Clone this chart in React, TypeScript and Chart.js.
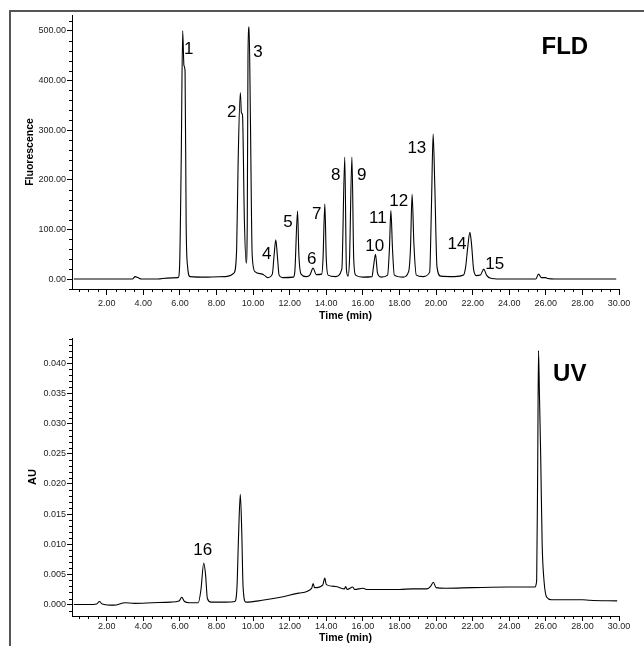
import React, { useEffect, useRef } from "react";
import { Chart, registerables } from "chart.js";

Chart.register(...registerables);

const FONT = '"Liberation Sans", Arial, Helvetica, sans-serif';

// ---------- FLD trace (time in min, fluorescence) ----------
const fldTime = [
  0.2, 1.5, 3.0, 3.4, 3.55, 3.7, 3.9, 4.8, 5.3, 5.9,
  5.98, 6.07, 6.15, 6.22, 6.28, 6.34, 6.42, 6.55, 7.5, 8.5,
  8.95, 9.1, 9.18, 9.3, 9.36, 9.42, 9.52, 9.62, 9.68, 9.72,
  9.78, 9.85, 9.95, 10.1, 10.5, 10.6, 10.8, 11.05, 11.14, 11.24,
  11.33, 11.42, 11.6, 12.2, 12.28, 12.43, 12.5, 12.62, 12.9, 13.1,
  13.28, 13.45, 13.75, 13.82, 13.92, 14.0, 14.1, 14.5, 14.85, 15.01,
  15.1, 15.19, 15.27, 15.4, 15.5, 15.6, 16.0, 16.5, 16.58, 16.69,
  16.8, 17.0, 17.35, 17.45, 17.53, 17.62, 17.72, 18.2, 18.5, 18.6,
  18.69, 18.79, 18.92, 19.3, 19.65, 19.75, 19.84, 19.93, 20.05, 20.25,
  21.0, 21.5, 21.62, 21.72, 21.85, 21.94, 22.05, 22.2, 22.42, 22.61,
  22.76, 22.95, 23.5, 25.45, 25.6, 25.75, 26.0, 26.1, 26.5, 29.85,
];
const fldSignal = [
  0, 0, 0, 0, 5, 3, 0, 0, 2, 3,
  25, 240, 500, 430, 420, 110, 25, 5, 4, 5,
  12, 60, 234, 376, 335, 330, 123, 32, 110, 450,
  508, 330, 48, 15, 10, 8, 3, 10, 45, 79,
  45, 8, 3, 4, 15, 137, 50, 10, 5, 8,
  22, 9, 10, 40, 151, 40, 8, 5, 20, 246,
  20, 6, 40, 246, 40, 8, 4, 5, 25, 50,
  12, 4, 8, 60, 138, 60, 8, 4, 15, 60,
  171, 70, 8, 5, 14, 150, 292, 190, 25, 6,
  5, 8, 25, 60, 94, 70, 20, 7, 8, 20,
  8, 2, 0, 0, 10, 3, 3, 1, 0, 0,
];

// ---------- UV trace (time in min, AU) ----------
const uvTime = [
  0.2, 1.0, 1.45, 1.6, 1.75, 2.4, 3.0, 3.5, 4.5, 5.5,
  5.95, 6.1, 6.25, 6.5, 7.0, 7.15, 7.3, 7.4, 7.5, 7.7,
  8.5, 9.0, 9.12, 9.2, 9.3, 9.38, 9.45, 9.6, 10.5, 11.5,
  12.5, 13.2, 13.28, 13.36, 13.8, 13.92, 14.0, 14.5, 15.0, 15.05,
  15.15, 15.45, 15.55, 16.0, 16.2, 17.0, 18.0, 18.7, 19.5, 19.7,
  19.85, 20.0, 20.5, 22.0, 24.0, 25.4, 25.5, 25.56, 25.6, 25.65,
  25.72, 25.8, 25.9, 26.05, 26.3, 27.0, 28.0, 28.4, 29.9,
];
const uvSignal = [
  0.0, 0.0, 0.0001, 0.0005, 0.0001, -0.0001, 0.0003, 0.0002, 0.0003, 0.0004,
  0.0006, 0.0012, 0.0005, 0.0003, 0.0003, 0.0025, 0.0069, 0.005, 0.001, 0.0004,
  0.0004, 0.0005, 0.003, 0.011, 0.0183, 0.012, 0.003, 0.0004, 0.0007, 0.0012,
  0.0019, 0.0027, 0.0035, 0.0028, 0.0032, 0.0044, 0.0033, 0.003, 0.0026, 0.003,
  0.0025, 0.0029, 0.0025, 0.0027, 0.0025, 0.0025, 0.0025, 0.0026, 0.0026, 0.003,
  0.0037, 0.0028, 0.0027, 0.0028, 0.0029, 0.0029, 0.004, 0.025, 0.0421, 0.035,
  0.0245, 0.01, 0.004, 0.0012, 0.0008, 0.0008, 0.0008, 0.0007, 0.0006,
];

// ---------- Axis ticks ----------
const xTickValues = [2, 4, 6, 8, 10, 12, 14, 16, 18, 20, 22, 24, 26, 28, 30];
const xTickLabels = ["2.00", "4.00", "6.00", "8.00", "10.00", "12.00", "14.00", "16.00", "18.00", "20.00", "22.00", "24.00", "26.00", "28.00", "30.00"];
const fldTickValues = [0, 100, 200, 300, 400, 500];
const fldTickLabels = ["0.00", "100.00", "200.00", "300.00", "400.00", "500.00"];
const uvTickValues = [0, 0.005, 0.01, 0.015, 0.02, 0.025, 0.03, 0.035, 0.04];
const uvTickLabels = ["0.000", "0.005", "0.010", "0.015", "0.020", "0.025", "0.030", "0.035", "0.040"];

// ---------- Peak annotations (anchored in data coordinates) ----------
const fldPeakNames = ["1", "2", "3", "4", "5", "6", "7", "8", "9", "10", "11", "12", "13", "14", "15"];
const fldPeakNameTime = [6.48, 8.83, 10.26, 10.75, 11.9, 13.21, 13.48, 14.52, 15.94, 16.65, 16.82, 17.96, 18.95, 21.14, 23.21];
const fldPeakNameSignal = [462, 335, 456, 50, 115, 40, 131, 210, 210, 65, 123, 157, 264, 71, 30];
const uvPeakNames = ["16"];
const uvPeakNameTime = [7.25];
const uvPeakNameSignal = [0.009];

const fldDetector = { text: "FLD", time: 27.04, value: 466 };
const uvDetector = { text: "UV", time: 27.31, value: 0.0381 };

function range(a: number, b: number, step: number) {
  const out: number[] = [];
  const n = Math.round((b - a) / step);
  for (let i = 0; i <= n; i++) out.push(+(a + i * step).toFixed(6));
  return out;
}

const minorTicksPlugin = {
  id: "minorTicks",
  afterDraw(chart: any, _args: any, opts: any) {
    const { ctx, chartArea, scales } = chart;
    ctx.save();
    ctx.strokeStyle = "#000";
    ctx.lineWidth = 1;
    ctx.beginPath();
    for (const v of opts.x || []) {
      const px = Math.round(scales.x.getPixelForValue(v)) + 0.5;
      ctx.moveTo(px, chartArea.bottom);
      ctx.lineTo(px, chartArea.bottom + 3);
    }
    for (const v of opts.y || []) {
      const py = Math.round(scales.y.getPixelForValue(v)) + 0.5;
      ctx.moveTo(chartArea.left, py);
      ctx.lineTo(chartArea.left - 3, py);
    }
    ctx.stroke();
    ctx.restore();
  },
};

const textLabelsPlugin = {
  id: "textLabels",
  afterDatasetsDraw(chart: any, _args: any, opts: any) {
    const { ctx, scales } = chart;
    ctx.save();
    ctx.fillStyle = "#000";
    ctx.textAlign = "center";
    ctx.textBaseline = "middle";
    for (const l of opts.items || []) {
      ctx.font = l.font;
      ctx.fillText(l.text, scales.x.getPixelForValue(l.x), scales.y.getPixelForValue(l.y));
    }
    ctx.restore();
  },
};

function makeConfig(opts: {
  time: number[];
  signal: number[];
  yMin: number;
  yMax: number;
  yTicks: number[];
  yLabels: string[];
  yMinor: number[];
  yTitle: string;
  yTitleFont: any;
  yTitlePad: number;
  padTop: number;
  xHeight: number;
  xTickLen: number;
  xTickPad: number;
  xTitlePadBottom: number;
  labels: any[];
}) {
  return {
    type: "line" as const,
    data: {
      datasets: [
        {
          data: opts.time.map((t, i) => ({ x: t, y: opts.signal[i] })),
          borderColor: "#000",
          borderWidth: 1.1,
          pointRadius: 0,
          cubicInterpolationMode: "monotone" as const,
          fill: false,
        },
      ],
    },
    options: {
      animation: false as const,
      responsive: false,
      maintainAspectRatio: false,
      layout: { padding: { left: 0, top: opts.padTop, right: 25, bottom: 0 } },
      plugins: {
        legend: { display: false },
        tooltip: { enabled: false },
        minorTicks: {
          x: range(0.5, 29.5, 0.5).filter((v) => !xTickValues.includes(v)),
          y: opts.yMinor,
        },
        textLabels: { items: opts.labels },
      },
      scales: {
        x: {
          type: "linear" as const,
          min: 0.1,
          max: 30,
          afterBuildTicks: (s: any) => {
            s.ticks = xTickValues.map((v) => ({ value: v }));
          },
          afterFit: (s: any) => {
            s.height = opts.xHeight;
          },
          ticks: {
            callback: (v: any) => xTickLabels[xTickValues.indexOf(v)] ?? "",
            font: { size: 9, family: FONT },
            color: "#222",
            padding: opts.xTickPad,
            maxRotation: 0,
            autoSkip: false,
          },
          grid: { drawOnChartArea: false, drawTicks: true, tickLength: opts.xTickLen, color: "#000" },
          border: { display: true, color: "#000", width: 1 },
          title: {
            display: true,
            text: "Time (min)",
            font: { size: 10.5, weight: "bold" as const, family: FONT },
            color: "#000",
            padding: { top: 0, bottom: opts.xTitlePadBottom },
          },
        },
        y: {
          type: "linear" as const,
          min: opts.yMin,
          max: opts.yMax,
          afterBuildTicks: (s: any) => {
            s.ticks = opts.yTicks.map((v) => ({ value: v }));
          },
          afterFit: (s: any) => {
            s.width = 72;
          },
          ticks: {
            callback: (v: any) => {
              const i = opts.yTicks.findIndex((t) => Math.abs(t - v) < 1e-9);
              return i >= 0 ? opts.yLabels[i] : "";
            },
            font: { size: 9, family: FONT },
            color: "#222",
            padding: 1,
            autoSkip: false,
          },
          grid: { drawOnChartArea: false, drawTicks: true, tickLength: 5, color: "#000" },
          border: { display: true, color: "#000", width: 1 },
          title: {
            display: true,
            text: opts.yTitle,
            font: opts.yTitleFont,
            color: "#000",
            padding: { top: opts.yTitlePad, bottom: 0 },
          },
        },
      },
    },
    plugins: [minorTicksPlugin, textLabelsPlugin],
  };
}

export default function App() {
  const topRef = useRef<HTMLCanvasElement>(null);
  const botRef = useRef<HTMLCanvasElement>(null);

  useEffect(() => {
    const peakFont = `17px ${FONT}`;
    const detFont = `bold 24px ${FONT}`;
    const topLabels = fldPeakNames
      .map((t, i) => ({ text: t, x: fldPeakNameTime[i], y: fldPeakNameSignal[i], font: peakFont }))
      .concat([{ text: fldDetector.text, x: fldDetector.time, y: fldDetector.value, font: detFont }]);
    const botLabels = uvPeakNames
      .map((t, i) => ({ text: t, x: uvPeakNameTime[i], y: uvPeakNameSignal[i], font: peakFont }))
      .concat([{ text: uvDetector.text, x: uvDetector.time, y: uvDetector.value, font: detFont }]);

    const top = new Chart(
      topRef.current!,
      makeConfig({
        time: fldTime,
        signal: fldSignal,
        yMin: -20,
        yMax: 532,
        yTicks: fldTickValues,
        yLabels: fldTickLabels,
        yMinor: range(-20, 520, 20).filter((v) => !fldTickValues.includes(v)),
        yTitle: "Fluorescence",
        yTitleFont: { size: 10.5, weight: "bold", family: FONT },
        yTitlePad: 24,
        padTop: 15,
        xHeight: 34,
        xTickLen: 6,
        xTickPad: 3,
        xTitlePadBottom: 1,
        labels: topLabels,
      }) as any
    );
    const bot = new Chart(
      botRef.current!,
      makeConfig({
        time: uvTime,
        signal: uvSignal,
        yMin: -0.0019,
        yMax: 0.0442,
        yTicks: uvTickValues,
        yLabels: uvTickLabels,
        yMinor: range(-0.001, 0.044, 0.001).filter((v) => !uvTickValues.some((t) => Math.abs(t - v) < 1e-9)),
        yTitle: "AU",
        yTitleFont: { size: 11, weight: "bold", family: FONT },
        yTitlePad: 26,
        padTop: 15,
        xHeight: 30,
        xTickLen: 5,
        xTickPad: 0,
        xTitlePadBottom: 2,
        labels: botLabels,
      }) as any
    );
    return () => {
      top.destroy();
      bot.destroy();
    };
  }, []);

  return (
    <div style={{ position: "absolute", left: 0, top: 0, width: 644, height: 646, background: "#fff", overflow: "hidden" }}>
      <canvas ref={topRef} width={644} height={323} style={{ position: "absolute", left: 0, top: 0, width: 644, height: 323 }} />
      <canvas ref={botRef} width={644} height={323} style={{ position: "absolute", left: 0, top: 323, width: 644, height: 323 }} />
      <div
        style={{
          position: "absolute",
          left: 9,
          top: 10,
          width: 635,
          height: 636,
          boxSizing: "border-box",
          borderTop: "2px solid #555",
          borderLeft: "2px solid #555",
          pointerEvents: "none",
        }}
      />
    </div>
  );
}
